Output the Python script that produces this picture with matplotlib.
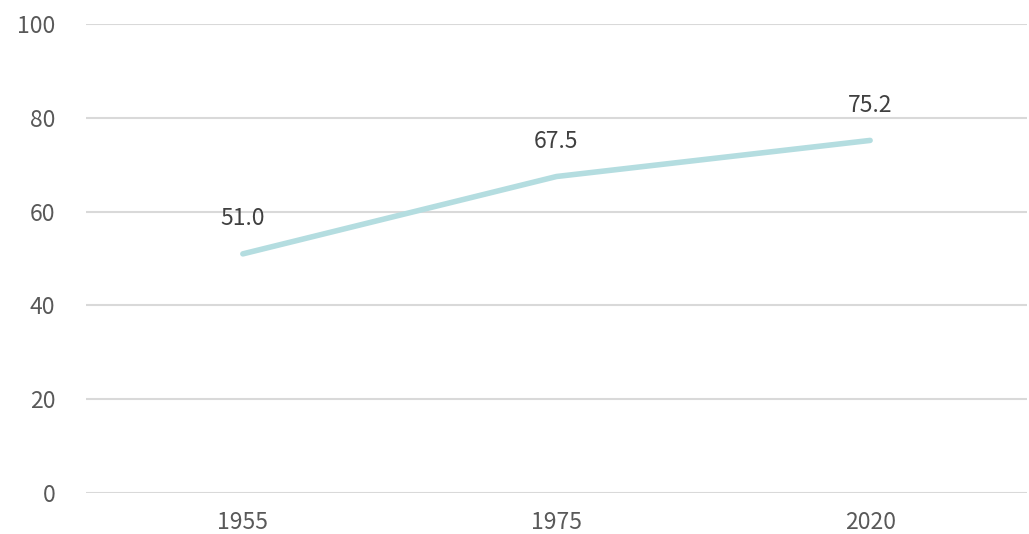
import matplotlib.pyplot as plt

years = ["1955", "1975", "2020"]
values = [51.0, 67.5, 75.2]
yticks = [0, 20, 40, 60, 80, 100]

plt.rcParams['font.family'] = ['Noto Sans CJK JP', 'DejaVu Sans']

fig = plt.figure(figsize=(10.29, 5.34), dpi=100)
ax = fig.add_axes([0.0836, 0.0768, 0.9144, 0.878])

x = range(len(years))
ax.plot(x, values, color="#B4DDE0", linewidth=4, solid_capstyle="round", zorder=3)
for i, v in zip(x, values):
    ax.annotate(f"{v:.1f}", (i, v), xytext=(0, 17), textcoords="offset points",
                ha="center", va="bottom", fontsize=16.5, color="#404040")

ax.set_xlim(-0.5, len(years) - 0.5)
ax.set_ylim(0, 100)
ax.set_xticks(list(x))
ax.set_xticklabels(years)
ax.set_yticks(yticks)
ax.yaxis.grid(True, color="#D9D9D9", linewidth=1.5)
ax.set_axisbelow(True)
for s in ax.spines.values():
    s.set_visible(False)
ax.tick_params(length=0, labelsize=16.5, labelcolor="#595959")
ax.tick_params(axis="y", pad=22)
ax.tick_params(axis="x", pad=13)

fig.savefig("out.png", dpi=100)
